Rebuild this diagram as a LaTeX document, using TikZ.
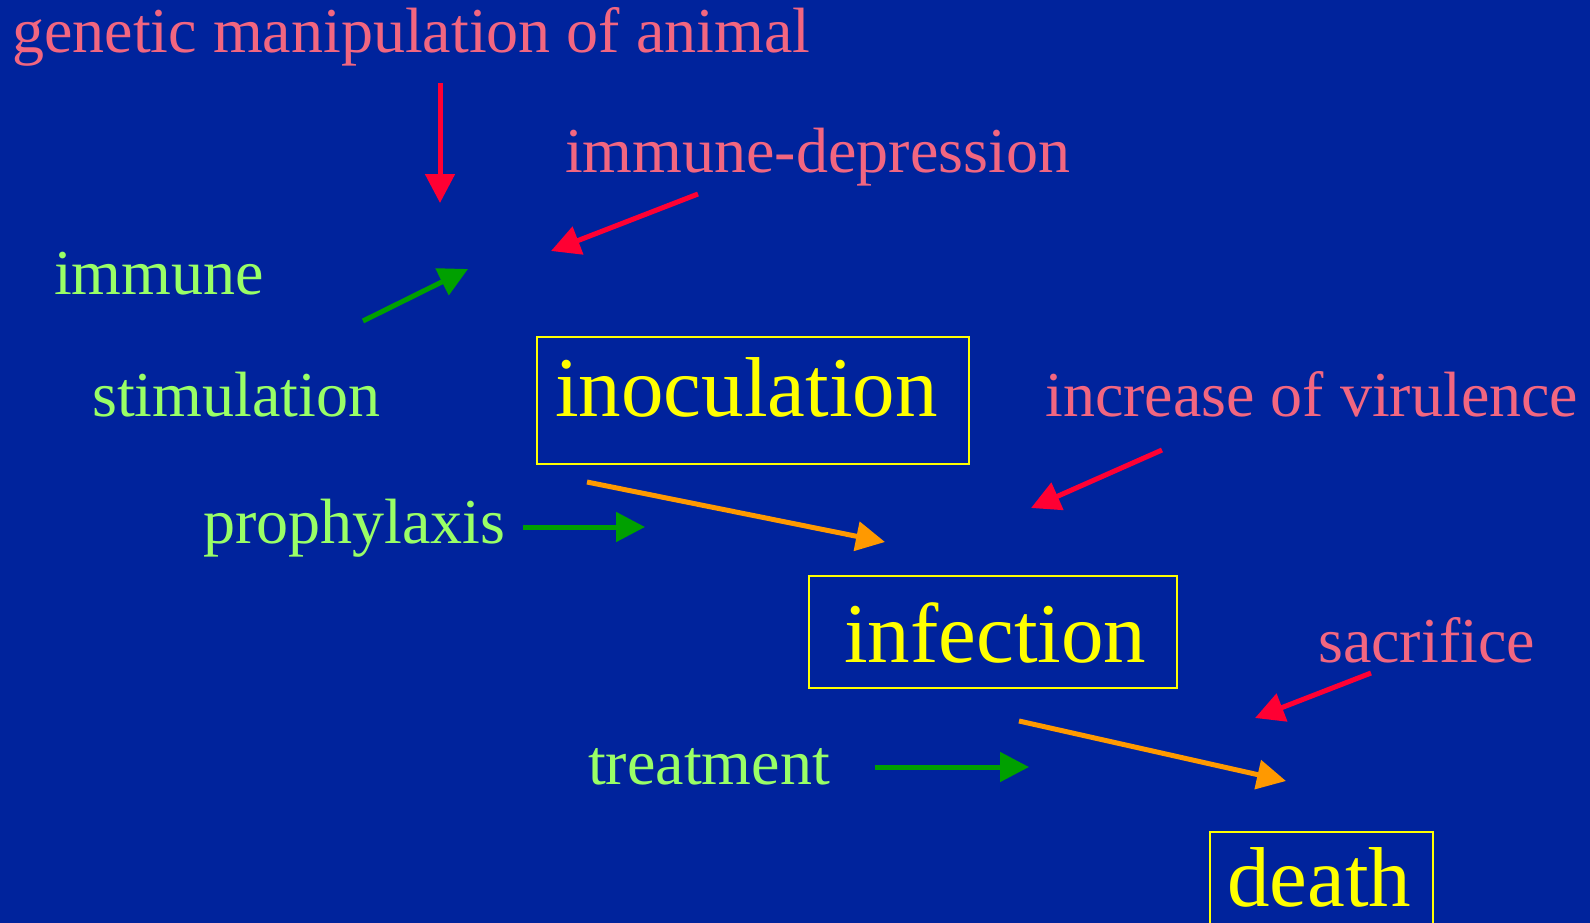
\documentclass[tikz,border=0pt]{standalone}
\usepackage{fontspec}
\setmainfont{Liberation Serif}
\usetikzlibrary{arrows.meta}
\definecolor{bg}{RGB}{0,35,156}
\definecolor{pinktxt}{RGB}{242,102,128}
\definecolor{greentxt}{RGB}{153,255,102}
\definecolor{redarr}{RGB}{255,0,51}
\definecolor{greenarr}{RGB}{0,160,0}
\definecolor{orangearr}{RGB}{255,153,0}
\definecolor{yel}{RGB}{255,255,0}
\begin{document}
\begin{tikzpicture}[x=1pt,y=-1pt,
  lbl/.style={anchor=base west,inner sep=0pt,font=\fontsize{64}{70}\selectfont},
  neglbl/.style={lbl,text=pinktxt},
  poslbl/.style={lbl,text=greentxt},
  biglbl/.style={anchor=base west,inner sep=0pt,text=yel,font=\fontsize{85}{90}\selectfont},
  stagebox/.style={draw=yel,line width=2.2pt,anchor=north west,inner sep=0pt},
  arr/.style={line width=5pt,-{Triangle[length=29pt,width=29pt]}},
  redarrow/.style={arr,draw=redarr},
  greenarrow/.style={arr,draw=greenarr},
  orangearrow/.style={arr,draw=orangearr}]
\useasboundingbox (0,0) rectangle (1590,923);
\fill[bg] (0,0) rectangle (1590,923);

% labels
\node[neglbl] (genetic) at (12,53) {genetic manipulation of animal};
\node[neglbl] (immdep) at (565,172) {immune-depression};
\node[poslbl] (immune) at (54,294) {immune};
\node[poslbl] (stim) at (92,416) {stimulation};
\node[poslbl] (proph) at (203,543) {prophylaxis};
\node[neglbl] (virul) at (1045,416) {increase of virulence};
\node[neglbl] (sacr) at (1318,662) {sacrifice};
\node[poslbl] (treat) at (588,784) {treatment};

% boxes
\node[stagebox,minimum width=432pt,minimum height=127pt] (inocbox) at (536,336) {};
\node[biglbl] (inoc) at (555,416) {inoculation};
\node[stagebox,minimum width=368pt,minimum height=112pt] (infbox) at (808,575) {};
\node[biglbl] (inf) at (844,662) {infection};
\node[stagebox,minimum width=223pt,minimum height=140pt] (deathbox) at (1209,831) {};
\node[biglbl] (death) at (1227,906) {death};

% arrow endpoints
\coordinate (g1) at (440,83);   \coordinate (g2) at (440,203);
\coordinate (d1) at (698,194);  \coordinate (d2) at (551,251);
\coordinate (s1) at (363,321);  \coordinate (s2) at (468,269);
\coordinate (o1) at (587,482);  \coordinate (o2) at (885,542);
\coordinate (p1) at (523,527);  \coordinate (p2) at (645,527);
\coordinate (v1) at (1162,450); \coordinate (v2) at (1031,508);
\coordinate (c1) at (1371,673); \coordinate (c2) at (1255,718);
\coordinate (f1) at (1019,721); \coordinate (f2) at (1286,781);
\coordinate (t1) at (875,767);  \coordinate (t2) at (1029,767);

\draw[redarrow] (g1) -- (g2);
\draw[redarrow] (d1) -- (d2);
\draw[greenarrow] (s1) -- (s2);
\draw[orangearrow] (o1) -- (o2);
\draw[greenarrow] (p1) -- (p2);
\draw[redarrow] (v1) -- (v2);
\draw[redarrow] (c1) -- (c2);
\draw[orangearrow] (f1) -- (f2);
\draw[greenarrow] (t1) -- (t2);
\end{tikzpicture}
\end{document}
